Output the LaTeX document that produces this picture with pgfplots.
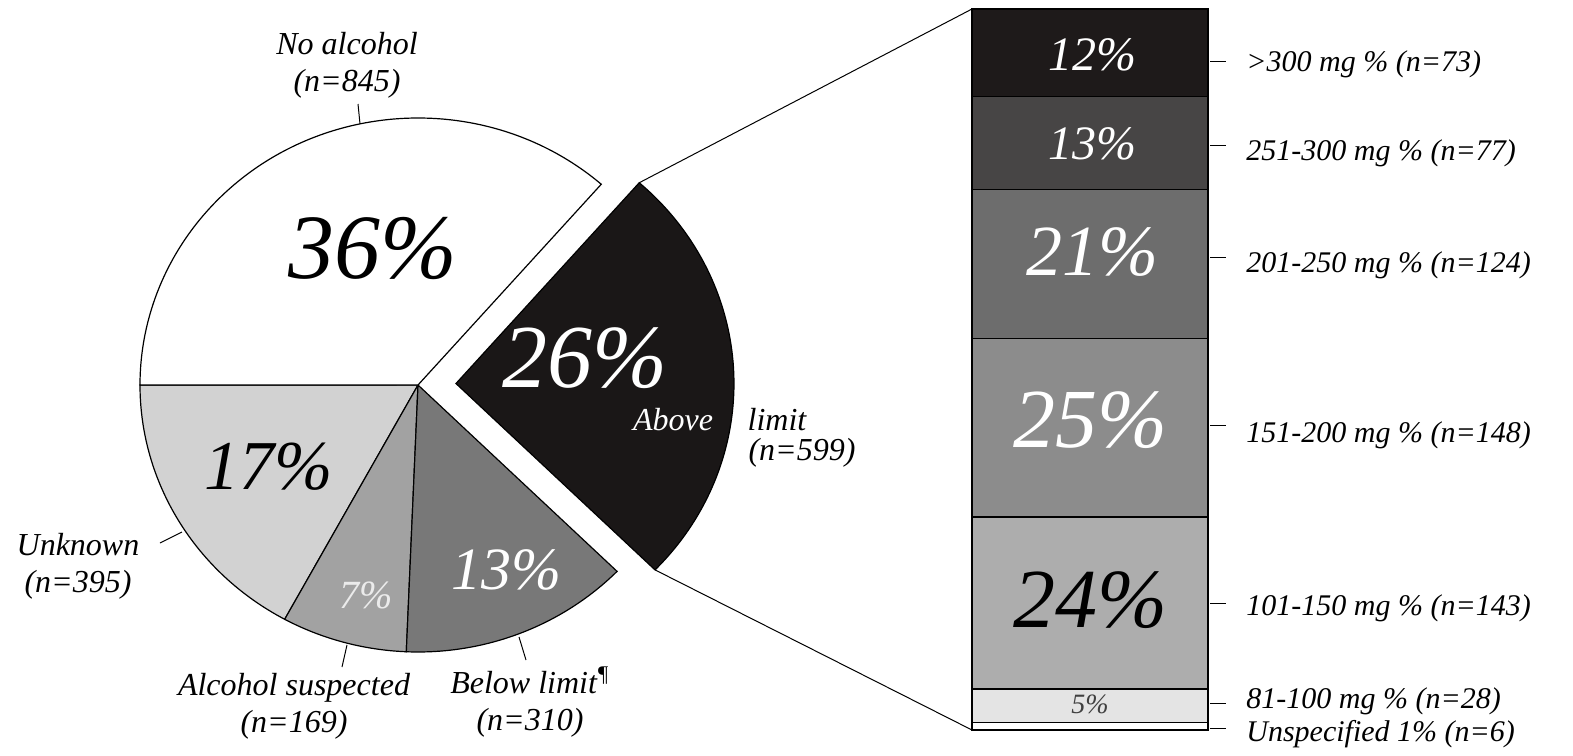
\documentclass[border=0pt]{standalone}
\usepackage{fontspec}
\setmainfont{Liberation Serif}
\usepackage{pgfplots}
\usepackage{pgfplotstable}
\pgfplotsset{compat=1.18}

\definecolor{cUnk}{HTML}{D2D2D2}
\definecolor{cSus}{HTML}{A2A2A2}
\definecolor{cBel}{HTML}{787878}
\definecolor{cAbo}{HTML}{1A1717}
\definecolor{bA}{HTML}{1E1A1A}
\definecolor{bB}{HTML}{474545}
\definecolor{bC}{HTML}{6D6D6D}
\definecolor{bD}{HTML}{8C8C8C}
\definecolor{bE}{HTML}{ADADAD}
\definecolor{bF}{HTML}{E4E4E4}

% pie counts, in drawing order (counter-clockwise from 180 degrees)
\pgfplotstableread{
group count
Unknown 395
Suspected 169
Below 310
Above 599
None 845
}\piedata

\pgfplotstablegetelem{0}{count}\of\piedata \edef\cA{\pgfplotsretval}
\pgfplotstablegetelem{1}{count}\of\piedata \edef\cB{\pgfplotsretval}
\pgfplotstablegetelem{2}{count}\of\piedata \edef\cC{\pgfplotsretval}
\pgfplotstablegetelem{3}{count}\of\piedata \edef\cD{\pgfplotsretval}
\pgfplotstablegetelem{4}{count}\of\piedata \edef\cE{\pgfplotsretval}
\pgfmathsetmacro\tot{\cA+\cB+\cC+\cD+\cE}
\pgfmathsetmacro\aA{180}
\pgfmathsetmacro\aB{\aA+\cA/\tot*360}
\pgfmathsetmacro\aC{\aB+\cB/\tot*360}
\pgfmathsetmacro\aD{\aC+\cC/\tot*360}
\pgfmathsetmacro\aE{\aD+\cD/\tot*360}
\pgfmathsetmacro\aF{\aE+\cE/\tot*360}
\pgfmathsetmacro\aM{(\aD+\aE)/2}

\newcommand\fs[1]{\fontsize{#1}{#1}\selectfont\itshape}

\begin{document}
\begin{tikzpicture}[
  lab/.style={font=\fontsize{16}{18.5}\selectfont\itshape, align=center, inner sep=0pt},
  blab/.style={font=\fontsize{15}{18}\selectfont\itshape, inner sep=0pt, anchor=base west},
  pct/.style={inner sep=0pt},
  slice/.style={draw=black, line width=0.6pt},
  el/.style={x radius=139pt, y radius=133.5pt},
]
\useasboundingbox (0,0) rectangle (786.5pt,377.5pt);

% stacked bar of the "Above limit" slice
\begin{axis}[at={(486pt,12.5pt)}, anchor=south west, scale only axis,
  width=118pt, height=360.5pt, xmin=-0.5, xmax=0.5, ymin=0, ymax=599,
  hide axis, ybar stacked, bar width=118pt, clip=false]
\addplot[fill=white, draw=black, line width=0.6pt] coordinates {(0,6)};
\addplot[fill=bF, draw=black, line width=0.6pt] coordinates {(0,28)};
\addplot[fill=bE, draw=black, line width=0.6pt] coordinates {(0,143)};
\addplot[fill=bD, draw=black, line width=0.6pt] coordinates {(0,148)};
\addplot[fill=bC, draw=black, line width=0.6pt] coordinates {(0,124)};
\addplot[fill=bB, draw=black, line width=0.6pt] coordinates {(0,77)};
\addplot[fill=bA, draw=black, line width=0.6pt] coordinates {(0,73)};
\end{axis}

\begin{axis}[at={(0,0)}, anchor=south west, scale only axis,
  width=786.5pt, height=377.5pt, xmin=0, xmax=1573, ymin=0, ymax=755,
  y dir=reverse, hide axis, clip=false]
% pie slices
\filldraw[slice, fill=cUnk] (axis cs:418,385) -- ++(\aA:139pt and 133.5pt) arc[el, start angle=\aA, end angle=\aB] -- cycle;
\filldraw[slice, fill=cSus] (axis cs:418,385) -- ++(\aB:139pt and 133.5pt) arc[el, start angle=\aB, end angle=\aC] -- cycle;
\filldraw[slice, fill=cBel] (axis cs:418,385) -- ++(\aC:139pt and 133.5pt) arc[el, start angle=\aC, end angle=\aD] -- cycle;
\filldraw[slice, fill=white] (axis cs:418,385) -- ++(\aE:139pt and 133.5pt) arc[el, start angle=\aE, end angle=\aF] -- cycle;
% exploded slice
\filldraw[slice, fill=cAbo] (axis cs:418,385) ++(\aM:19pt) -- ++(\aD:139pt and 133.5pt) arc[el, start angle=\aD, end angle=\aE] -- cycle;
% connectors to the bar
\draw[line width=0.5pt] (axis cs:418,385) ++(\aM:19pt) ++(\aE:139pt and 133.5pt) -- (axis cs:972,9);
\draw[line width=0.5pt] (axis cs:418,385) ++(\aM:19pt) ++(\aD:139pt and 133.5pt) -- (axis cs:972,730);

% percentages in the pie
\node[pct, font=\fs{46}] at (axis cs:373,249) {36\%};
\node[pct, font=\fs{45}, text=white] at (axis cs:585,358) {26\%};
\node[pct, font=\fs{35}] at (axis cs:269,467) {17\%};
\node[pct, font=\fs{20}, text=white!92!black] at (axis cs:366,595) {7\%};
\node[pct, font=\fs{30}, text=white] at (axis cs:506,570) {13\%};

% pie labels
\node[lab] at (axis cs:347,65) {No alcohol\\(n=845)};
\draw[line width=0.5pt] (axis cs:358,104) -- (axis cs:360,124);
\node[lab] at (axis cs:78,566) {Unknown\\(n=395)};
\draw[line width=0.5pt] (axis cs:160,543) -- (axis cs:182,532);
\node[lab] at (axis cs:294,706) {Alcohol suspected\\(n=169)};
\draw[line width=0.5pt] (axis cs:342,667) -- (axis cs:347,645);
\node[lab] at (axis cs:530,702) {Below limit\textsuperscript{\P}\\(n=310)};
\draw[line width=0.5pt] (axis cs:526,660) -- (axis cs:519,637);
\node[lab, text=white] at (axis cs:673,420) {Above};
\node[lab] at (axis cs:777,420) {limit};
\node[lab] at (axis cs:802,453) {(n=599)};

% percentages in the bar
\node[pct, font=\fs{24}, text=white] at (axis cs:1092,55) {12\%};
\node[pct, font=\fs{24}, text=white] at (axis cs:1092,144) {13\%};
\node[pct, font=\fs{36}, text=white] at (axis cs:1092,252) {21\%};
\node[pct, font=\fs{42}, text=white] at (axis cs:1090,420) {25\%};
\node[pct, font=\fs{42}] at (axis cs:1090,600) {24\%};
\node[pct, font=\fs{14}, text=black!75] at (axis cs:1090,704) {5\%};

% bar labels with ticks
\draw[line width=0.5pt] (axis cs:1210,62) -- (axis cs:1226,62);
\draw[line width=0.5pt] (axis cs:1210,145) -- (axis cs:1226,145);
\draw[line width=0.5pt] (axis cs:1210,257) -- (axis cs:1226,257);
\draw[line width=0.5pt] (axis cs:1210,425) -- (axis cs:1226,425);
\draw[line width=0.5pt] (axis cs:1210,603) -- (axis cs:1226,603);
\draw[line width=0.5pt] (axis cs:1210,703) -- (axis cs:1226,703);
\draw[line width=0.5pt] (axis cs:1210,728) -- (axis cs:1226,728);
\node[blab] at (axis cs:1246,72) {\textgreater300 mg \% (n=73)};
\node[blab] at (axis cs:1246,160) {251-300 mg \% (n=77)};
\node[blab] at (axis cs:1246,272) {201-250 mg \% (n=124)};
\node[blab] at (axis cs:1246,442) {151-200 mg \% (n=148)};
\node[blab] at (axis cs:1246,615) {101-150 mg \% (n=143)};
\node[blab] at (axis cs:1246,708) {81-100 mg \% (n=28)};
\node[blab] at (axis cs:1246,741) {Unspecified 1\% (n=6)};
\end{axis}
\end{tikzpicture}
\end{document}
